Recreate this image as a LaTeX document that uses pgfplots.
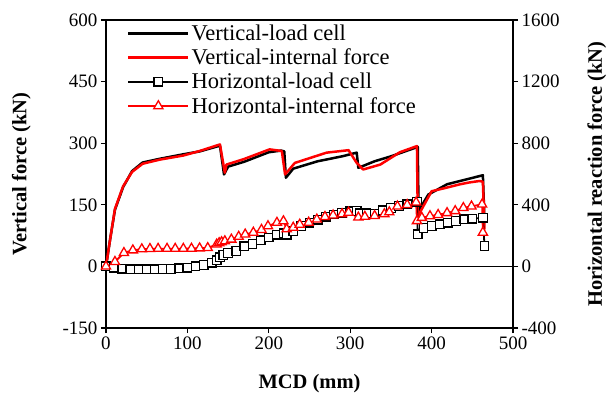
\documentclass[border=0pt]{standalone}
\usepackage{fontspec}
\setmainfont{Liberation Serif}
\usepackage{pgfplots}
\pgfplotsset{compat=1.18}
\begin{document}
\begin{tikzpicture}
\useasboundingbox (-106pt,-80pt) rectangle (510pt,328pt);
\pgfplotsset{
  common/.style={
    at={(0pt,0pt)}, anchor=south west,
    scale only axis, width=407pt, height=308pt,
    xmin=0, xmax=500,
    tick align=outside, major tick length=5pt,
    axis line style={line width=1.2pt},
    tick style={line width=1.2pt, black},
    /pgf/number format/assume math mode=true,
    /pgf/number format/1000 sep={},
    tick label style={font=\fontsize{19}{19}\selectfont},
    label style={font=\fontsize{20.5}{20.5}\selectfont\bfseries},
  }
}
\begin{axis}[common,
  ymin=-150, ymax=600,
  xtick={0,100,...,500}, ytick={-150,0,...,600},
  xtick pos=bottom, ytick pos=left,
  xlabel={MCD (mm)}, ylabel={Vertical force (kN)},
  xlabel style={at={(axis description cs:0.5,-0.182)}, anchor=center},
  ylabel style={at={(axis description cs:-0.208,0.5)}, anchor=center},
]
\addplot[black, line width=1pt, forget plot] coordinates {(0,0) (500,0)};
% Vertical - load cell
\addplot[black, line width=2.5pt, line join=round] coordinates {
(0,0) (5,65) (11,138) (21,193) (32,232) (45,253) (66,262) (95,273) (115,280) (140,294)
(145,224) (150,243) (170,255) (200,278) (215,282) (219,280)
(221,216) (230,238) (260,256) (290,268) (308,277)
(310,240) (330,256) (350,268) (383,291)
(384,135) (396,175) (419,200) (443,212) (463,222) (465,110)
};
% Vertical - internal force
\addplot[red, line width=2.5pt, line join=round] coordinates {
(0,0) (5,65) (11,140) (21,195) (32,230) (45,250) (66,260) (95,270) (115,281) (140,297)
(146,228) (148,248) (169,261) (201,285) (216,281)
(220,224) (232,252) (271,277) (298,283) (308,252) (316,236) (337,248) (361,278) (382,293)
(383,122) (400,183) (419,192) (435,200) (445,204) (459,208) (463,206) (465,90)
};
\end{axis}
\begin{axis}[common,
  ymin=-400, ymax=1600, ytick={-400,0,...,1600},
  axis x line=none, axis y line*=right, ytick pos=right,
  ylabel={Horizontal reaction force (kN)},
  ylabel style={at={(axis description cs:1.206,0.5)}, anchor=center},
  legend cell align=left,
  legend style={at={(axis description cs:0.044,0.998)}, anchor=north west, draw=none, fill=none,
     font=\fontsize{22.5}{22.5}\selectfont, row sep=3pt},
  legend image code/.code={\draw[mark repeat=2,mark phase=2,#1] plot coordinates {(0pt,0pt) (30pt,0pt) (60pt,0pt)};},
]
\addlegendimage{black, line width=2.5pt}
\addlegendentry{Vertical-load cell}
\addlegendimage{red, line width=2.5pt}
\addlegendentry{Vertical-internal force}
% Horizontal - load cell
\addplot[black, line width=1.8pt, mark=square*, mark size=4.3pt,
  mark options={fill=white, line width=1.3pt, solid}] coordinates {
(0,0) (10,-8) (20,-15) (30,-18) (40,-18) (50,-18) (60,-18) (70,-17) (80,-16) (90,-13)
(100,-8) (110,0) (120,10) (130,25) (136,40) (140,60) (144,75) (150,88) (160,100)
(170,130) (180,145) (190,170) (200,188) (210,205) (218,215) (222,205) (230,228)
(240,262) (250,283) (260,303) (270,323) (280,337) (290,348) (300,358) (308,360)
(312,345) (320,345) (330,340) (340,365) (350,380) (360,392) (370,403) (382,420)
(383,208) (390,250) (400,262) (410,273) (420,284) (430,294) (440,305) (450,310)
(463,316) (465,132)
};
\addlegendentry{Horizontal-load cell}
% Horizontal - internal force
\addplot[red, line width=1.8pt, mark=triangle*, mark size=5.3pt,
  mark options={fill=white, line width=1.3pt, solid}] coordinates {
(0,0) (11,30) (22,88) (33,105) (44,112) (54,114) (64,115) (75,115) (85,115) (95,115)
(105,116) (115,118) (125,120) (136,143) (139,152) (142,158) (146,164) (154,175)
(163,193) (171,208) (181,220) (191,238) (199,262) (210,284) (218,294)
(222,242) (230,252) (238,272) (249,285) (259,305) (269,322) (279,332) (290,340) (298,350)
(310,318) (318,323) (330,328) (342,340) (348,352) (358,390) (370,400) (381,416)
(382,295) (388,316) (398,327) (408,335) (419,347) (429,360) (439,380) (449,390)
(462,403) (463,220)
};
\addlegendentry{Horizontal-internal force}
\end{axis}
\end{tikzpicture}
\end{document}
